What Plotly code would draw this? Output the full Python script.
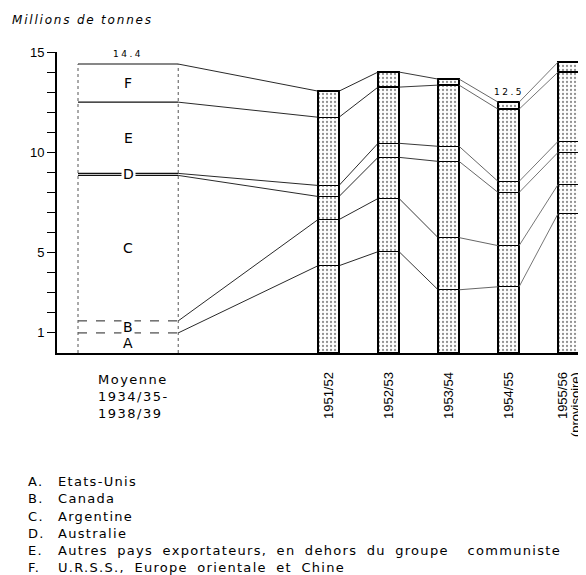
import json
import numpy as np
import plotly.graph_objects as go

# ---------------- data (millions de tonnes) ----------------
periods = ["Moyenne 1934/35-1938/39", "1951/52", "1952/53", "1953/54", "1954/55", "1955/56 (provisoire)"]
period_label_lines = [["Moyenne", "1934/35-", "1938/39"], ["1951/52"], ["1952/53"],
                      ["1953/54"], ["1954/55"], ["1955/56", "(provisoire)"]]
series_codes = ["A", "B", "C", "D", "E", "F"]
series_names = ["Etats-Unis", "Canada", "Argentine", "Australie",
                "Autres pays exportateurs, en dehors du groupe  communiste",
                "U.R.S.S., Europe orientale et Chine"]
A_us = [1.0, 4.35, 5.05, 3.15, 3.3, 6.95]
B_canada = [0.6, 2.3, 2.65, 2.6, 2.05, 1.45]
C_argentine = [7.25, 1.15, 2.05, 3.8, 2.65, 1.6]
D_australie = [0.1, 0.55, 0.7, 0.75, 0.55, 0.55]
E_autres = [3.55, 3.4, 2.8, 3.05, 3.6, 3.45]
F_urss = [1.9, 1.3, 0.75, 0.3, 0.35, 0.5]
total_label_periods = [0, 4]
y_label_values = [1, 5, 10, 15]
y_tick_values = list(range(1, 16))

series = [A_us, B_canada, C_argentine, D_australie, E_autres, F_urss]

# ---------------- layout geometry ----------------
OFF = 8                      # page body margin of the browser
W, H = 586 - OFF, 575 - OFF
ML, MR, MT, MB = 57 - OFF, 6, 52 - OFF, 222
plot_w = W - ML - MR
plot_h = H - MT - MB
xpos = np.array([-3.34, 0, 1, 2, 3, 4])
widths = np.array([1.67, 0.35, 0.35, 0.35, 0.35, 0.35])
left = xpos - widths / 2
right = xpos + widths / 2
FONT = "DejaVu Sans"
FONT2 = "Liberation Sans"
gap_colors = ["#111", "#111", "#222", "#555", "#666"]


def xpaper(px):   # screen pixel -> paper x
    return (px - OFF - ML) / plot_w


def ypaper(py):   # screen pixel -> paper y
    return (H - MB - (py - OFF)) / plot_h


fig = go.Figure()

edge_w = [0] + [1.4] * 5
shapes = [""] + ["."] * 5
for vals in series:
    fig.add_trace(go.Bar(
        x=xpos, y=vals, width=widths,
        marker=dict(color="white",
                    line=dict(color="black", width=edge_w),
                    pattern=dict(shape=shapes, fgcolor="#222", bgcolor="white",
                                 size=4, solidity=0.25)),
        showlegend=False, hoverinfo="skip"))

cum = np.cumsum(np.array(series), axis=0)
totals = cum[-1]

# horizontal lines across the pre-war box
for k in range(len(series)):
    dash = "dash" if k < 2 else "solid"
    fig.add_trace(go.Scatter(x=[left[0], right[0]], y=[cum[k, 0], cum[k, 0]], mode="lines",
                             line=dict(color="#222" if k < 2 else "#111",
                                       width=1 if k < 2 else 1.1, dash=dash),
                             showlegend=False, hoverinfo="skip"))

# connecting lines between successive periods
for g in range(len(periods) - 1):
    xs, ys = [], []
    for k in range(len(series)):
        xs += [right[g], left[g + 1], None]
        ys += [cum[k, g], cum[k, g + 1], None]
    fig.add_trace(go.Scatter(x=xs, y=ys, mode="lines",
                             line=dict(color=gap_colors[g], width=0.9),
                             showlegend=False, hoverinfo="skip"))

# dotted vertical edges of the pre-war box
fig.add_trace(go.Scatter(x=[left[0], left[0], None, right[0], right[0]],
                         y=[0, totals[0], None, 0, totals[0]],
                         mode="lines", line=dict(color="#555", width=1, dash="dot"),
                         showlegend=False, hoverinfo="skip"))

ann = []
spacing = {}   # annotation index -> (letter-spacing, word-spacing)

# letters inside pre-war box
for k, code in enumerate(series_codes):
    lo = cum[k - 1, 0] if k > 0 else 0
    mid = (lo + cum[k, 0]) / 2
    ann.append(dict(x=xpos[0], y=mid, xref="x", yref="y", text=code, showarrow=False,
                    font=dict(family=FONT, size=14, color="black"),
                    bgcolor="white", borderpad=1, xanchor="center", yanchor="middle"))

# total labels
for i in total_label_periods:
    spacing[len(ann)] = (2.5, 0)
    ann.append(dict(x=xpos[i], y=totals[i], xref="x", yref="y",
                    text=f"{totals[i]:.1f}", showarrow=False, yshift=3,
                    font=dict(family=FONT, size=9, color="black"),
                    xanchor="center", yanchor="bottom"))

# category labels
for i, lines in enumerate(period_label_lines):
    if i == 0:
        spacing[len(ann)] = (1.5, 0)
        ann.append(dict(x=xpaper(96), y=ypaper(396), xref="paper", yref="paper",
                        text="<br>".join(lines), showarrow=False, align="left",
                        xanchor="left", yanchor="middle",
                        font=dict(family=FONT, size=13, color="black")))
    else:
        n = len(lines)
        for j, line in enumerate(lines):
            shift = 0 if n == 1 else (-6 if j == 0 else 7)
            ann.append(dict(x=xpos[i], y=ypaper(370), xref="x", yref="paper",
                            text=line, showarrow=False, textangle=-90, xshift=shift,
                            xanchor="center", yanchor="top",
                            font=dict(family=FONT2, size=13, color="black")))

# key below chart
for k, (code, name) in enumerate(zip(series_codes, series_names)):
    yc = 481.7 + 17.2 * k
    spacing[len(ann)] = (1.3, 0)
    ann.append(dict(x=xpaper(26), y=ypaper(yc), xref="paper", yref="paper", text=code + ".",
                    showarrow=False, xanchor="left", yanchor="middle", align="left",
                    font=dict(family=FONT, size=13, color="black")))
    spacing[len(ann)] = (1.3, 4)
    ann.append(dict(x=xpaper(56), y=ypaper(yc), xref="paper", yref="paper", text=name,
                    showarrow=False, xanchor="left", yanchor="middle", align="left",
                    font=dict(family=FONT, size=13, color="black")))

fig.update_layout(
    width=W, height=H, barmode="stack",
    paper_bgcolor="white", plot_bgcolor="white",
    margin=dict(l=ML, r=MR, t=MT, b=MB, autoexpand=False),
    title=dict(text="<i>Millions de tonnes</i>", x=(12 - OFF) / W, y=1 - (20 - OFF) / H,
               xanchor="left", yanchor="middle", xref="container", yref="container",
               font=dict(family=FONT, size=12, color="black")),
    annotations=ann,
    xaxis=dict(range=[-4.525, 4.19], showline=True, linecolor="black", linewidth=2,
               showticklabels=False, ticks="", showgrid=False, zeroline=False),
    yaxis=dict(range=[0, 15], showline=True, linecolor="black", linewidth=2,
               tickvals=y_tick_values,
               ticktext=[str(v) if v in y_label_values else "" for v in y_tick_values],
               ticks="outside", ticklen=8, tickwidth=1, tickcolor="black",
               showgrid=False, zeroline=False,
               tickfont=dict(family=FONT2, size=13, color="black")),
)

js = """
var sp = %s;
document.querySelectorAll('g.annotation').forEach(function(g){
  var i = g.getAttribute('data-index');
  if (sp.hasOwnProperty(i)) {
    var t = g.querySelector('text.annotation-text');
    if (t) { t.style.letterSpacing = sp[i][0] + 'px'; t.style.wordSpacing = sp[i][1] + 'px'; }
  }
});
var tt = document.querySelector('text.gtitle');
if (tt) { tt.style.letterSpacing = '1.8px'; }
""" % json.dumps({str(k): v for k, v in spacing.items()})

fig.write_html("out.html", post_script=js)
